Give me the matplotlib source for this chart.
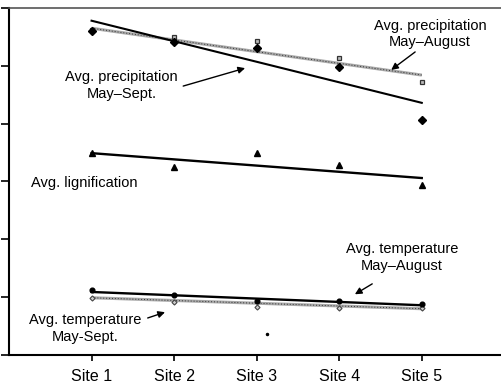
import matplotlib.pyplot as plt

plt.rcParams['font.family'] = ['Liberation Sans', 'DejaVu Sans']

# data (y axis 0..6, no labels)
sites = [1, 2, 3, 4, 5]
site_labels = ['Site 1', 'Site 2', 'Site 3', 'Site 4', 'Site 5']

precip_sept = [5.60, 5.41, 5.31, 4.98, 4.06]
precip_aug = [5.62, 5.49, 5.43, 5.14, 4.72]
lignification = [3.49, 3.25, 3.49, 3.29, 2.94]
temp_aug = [1.12, 1.04, 0.94, 0.93, 0.89]
temp_sept = [0.99, 0.91, 0.83, 0.82, 0.81]

# trend line values at site 1 and site 5
trend_x = [1, 5]
trend_precip_sept = [5.78, 4.36]
trend_precip_aug = [5.65, 4.84]
trend_lign = [3.49, 3.06]
trend_temp_aug = [1.09, 0.86]
trend_temp_sept = [0.99, 0.80]

stray_x = [3.13]
stray_y = [0.36]

fig = plt.figure(figsize=(5.01, 3.86), dpi=100)
ax = fig.add_axes([0.018, 0.0803, 0.982, 0.899])


def grey_line(x, y):
    ax.plot(x, y, color='#a8a8a8', lw=2.2, solid_capstyle='butt', zorder=2)
    ax.plot(x, y, color='#333333', lw=0.7, ls=(0, (1, 2)), zorder=2.1)


# precipitation
ax.plot(trend_x, trend_precip_sept, color='black', lw=1.5, zorder=3)
grey_line(trend_x, trend_precip_aug)
ax.plot(sites, precip_aug, ls='none', marker='s', ms=3.3, mfc='#bbbbbb', mec='#333333', mew=0.9, zorder=4)
ax.plot(sites, precip_sept, ls='none', marker='D', ms=3.6, color='black', zorder=5)

# lignification
ax.plot(trend_x, trend_lign, color='black', lw=1.7, zorder=3)
ax.plot(sites, lignification, ls='none', marker='^', ms=3.8, color='black', zorder=4)

# temperature
ax.plot(trend_x, trend_temp_aug, color='black', lw=1.7, zorder=3)
grey_line(trend_x, trend_temp_sept)
ax.plot(sites, temp_sept, ls='none', marker='D', ms=2.6, mfc='#cccccc', mec='#444444', mew=0.8, zorder=4)
ax.plot(sites, temp_aug, ls='none', marker='o', ms=3.4, color='black', zorder=5)

ax.plot(stray_x, stray_y, ls='none', marker='o', ms=1.5, color='black')

# labels
fs = 10.5
ax.text(5.10, 5.55, 'Avg. precipitation\nMay\u2013August', ha='center', va='center',
        fontsize=fs, linespacing=1.25)
ax.text(1.36, 4.66, 'Avg. precipitation\nMay\u2013Sept.', ha='center', va='center',
        fontsize=fs, linespacing=1.25)
ax.text(0.27, 2.97, 'Avg. lignification', ha='left', va='center', fontsize=fs)
ax.text(4.76, 1.69, 'Avg. temperature\nMay\u2013August', ha='center', va='center',
        fontsize=fs, linespacing=1.25)
ax.text(0.92, 0.46, 'Avg. temperature\nMay-Sept.', ha='center', va='center',
        fontsize=fs, linespacing=1.25)

# arrows (tail, head)
arrow = dict(arrowstyle='-|>', color='black', lw=1.0, mutation_scale=10, shrinkA=0, shrinkB=0)
arrows = [((4.92, 5.24), (4.63, 4.93)),
          ((2.11, 4.65), (2.86, 4.96)),
          ((4.40, 1.23), (4.19, 1.05)),
          ((1.68, 0.64), (1.89, 0.74))]
for tail, head in arrows:
    ax.annotate('', xy=head, xytext=tail, arrowprops=arrow)

ax.set_xlim(0, 5.96)
ax.set_ylim(0, 6)
ax.set_xticks(sites)
ax.set_xticklabels(site_labels, fontsize=11.5)
ax.set_yticks(range(0, 7))
ax.set_yticklabels([])
ax.tick_params(axis='x', direction='out', length=4, width=1.2, pad=6)
ax.tick_params(axis='y', direction='out', length=6, width=1.2)
ax.spines['right'].set_visible(False)
ax.spines['left'].set_linewidth(1.5)
ax.spines['bottom'].set_linewidth(1.5)
ax.spines['top'].set_linewidth(1.2)
ax.spines['top'].set_color('#555555')

fig.savefig('out.png', dpi=100)
